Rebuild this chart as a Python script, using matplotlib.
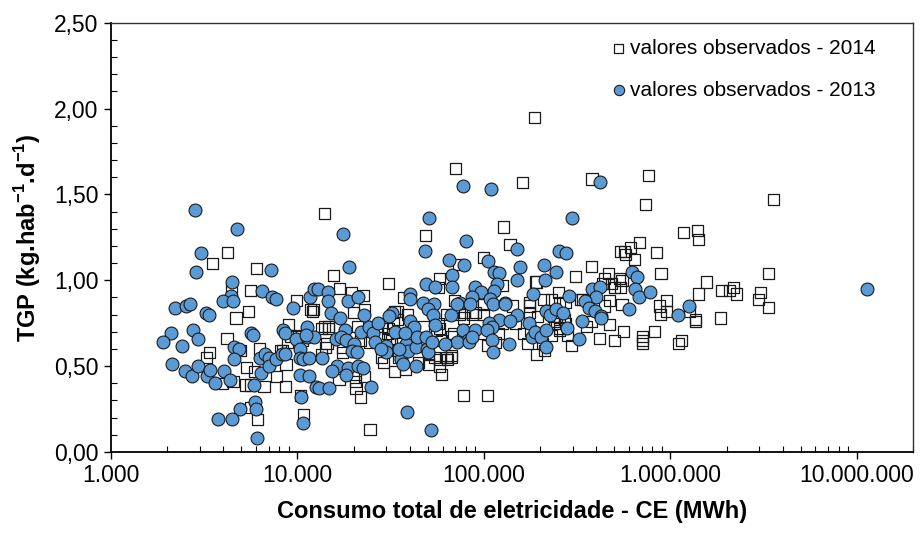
import matplotlib
matplotlib.use("Agg")
import matplotlib.pyplot as plt
from matplotlib.ticker import FixedLocator, LogLocator, MultipleLocator, FuncFormatter, NullFormatter

plt.rcParams['font.family'] = ['Liberation Sans', 'DejaVu Sans']
plt.rcParams['mathtext.fontset'] = 'custom'
plt.rcParams['mathtext.rm'] = 'Liberation Sans'
plt.rcParams['mathtext.bf'] = 'Liberation Sans:bold'

# consumo total de eletricidade (MWh) e TGP (kg/hab/dia) por municipio - 2013
ce_2013 = [
    2820, 4720, 3030, 2840, 7210, 4470, 6430, 4400, 7300, 7660, 3970, 4490, 2200, 2510,
    2660, 3220, 3350, 9460, 11670, 2100, 1910, 2770, 2930, 2390, 2120, 2490, 2710, 2930,
    3270, 3410, 3630, 4050, 4370, 4580, 4870, 4580, 5650, 5800, 6320, 6700, 7000, 6370,
    7040, 7720, 8230, 8360, 8530, 9830, 10340, 10340, 10700, 10300, 11300, 11300, 5880,
    5910, 5990, 4920, 3760, 4430, 6060, 10420, 10650, 8600,
    77100, 50500, 17450, 80500, 48500, 18970, 64900, 78500, 67400, 48800, 54600, 67400,
    12300, 12900, 14600, 14500, 18750, 21100, 40300, 40300, 47300, 53900, 50200, 53000,
    66500, 74400, 71400, 15200, 16900, 22800, 32200, 30900, 18000, 40100, 42300, 54600,
    77400, 82400, 72000, 62100, 12300, 11100, 11540, 13500, 16000, 17200, 18300, 20200,
    19700, 20900, 22000, 24300, 25400, 27100, 26000, 16200, 15400, 18700, 18300, 21100,
    22500, 11500, 12500, 13100, 14800, 24900, 38700, 51900, 29800, 29800, 36000, 36800,
    38100, 39000, 35000, 43000, 49300, 50200, 43800, 49000, 52400, 43000, 33500, 37600,
    27900,
    109000, 420000, 297000, 150000, 253000, 277000, 105000, 157000, 211000, 245000,
    113000, 120000, 150000, 212000, 117000, 89500, 97000, 86000, 113000, 108000, 112000,
    84000, 130000, 129000, 183000, 286000, 380000, 420000, 398000, 347000, 366000,
    392000, 426000, 150000, 214000, 225000, 245000, 266000, 598000, 121000, 138000,
    106000, 111000, 174000, 90000, 104000, 83000, 86200, 110000, 112000, 136000, 182000,
    189000, 203000, 214000, 214000, 278000, 323000, 336000, 426000,
    11350000, 624000, 662000, 648000, 680000, 776000, 1255000, 1100000,
]
tgp_2013 = [
    1.41, 1.30, 1.16, 1.05, 1.06, 0.99, 0.94, 0.91, 0.90, 0.89, 0.88, 0.88, 0.84, 0.85,
    0.86, 0.81, 0.80, 0.84, 0.90, 0.69, 0.64, 0.71, 0.66, 0.62, 0.51, 0.47, 0.44, 0.50,
    0.44, 0.48, 0.40, 0.47, 0.42, 0.61, 0.60, 0.54, 0.69, 0.68, 0.55, 0.57, 0.55, 0.46,
    0.50, 0.54, 0.57, 0.71, 0.69, 0.66, 0.60, 0.55, 0.54, 0.45, 0.73, 0.67, 0.39,
    0.29, 0.25, 0.25, 0.19, 0.19, 0.08, 0.32, 0.17, 0.57,
    1.55, 1.36, 1.27, 1.23, 1.17, 1.08, 1.12, 1.09, 1.03, 0.98, 0.96, 0.96,
    0.95, 0.95, 0.93, 0.88, 0.88, 0.90, 0.92, 0.89, 0.87, 0.86, 0.83, 0.80,
    0.80, 0.87, 0.86, 0.81, 0.78, 0.80, 0.81, 0.79, 0.71, 0.76, 0.73, 0.74,
    0.71, 0.65, 0.64, 0.63, 0.67, 0.68, 0.55, 0.55, 0.66, 0.67, 0.65, 0.63,
    0.59, 0.58, 0.70, 0.73, 0.69, 0.75, 0.64, 0.50, 0.47, 0.49, 0.45, 0.50,
    0.49, 0.44, 0.38, 0.37, 0.37, 0.38, 0.23, 0.13, 0.62, 0.58, 0.54, 0.51,
    0.63, 0.59, 0.60, 0.61, 0.60, 0.58, 0.67, 0.67, 0.64, 0.50, 0.70, 0.69,
    0.60,
    1.53, 1.57, 1.36, 1.18, 1.17, 1.16, 1.11, 1.08, 1.09, 1.05,
    1.05, 1.04, 1.00, 1.00, 0.98, 0.96, 0.93, 0.90, 0.94, 0.89, 0.86,
    0.86, 0.87, 0.86, 0.92, 0.91, 0.95, 0.96, 0.90, 0.88, 0.84,
    0.82, 0.79, 0.80, 0.82, 0.80, 0.83, 0.81, 0.83, 0.77, 0.76,
    0.75, 0.73, 0.75, 0.71, 0.71, 0.64, 0.67, 0.65, 0.58, 0.63, 0.67,
    0.70, 0.67, 0.71, 0.61, 0.72, 0.66, 0.76, 0.78,
    0.95, 1.05, 1.02, 0.95, 0.90, 0.93, 0.85, 0.80,
]

# mesmos dados - 2014
ce_2014 = [
    4210, 3520, 6040, 4430, 5610, 5450, 4680, 9880, 11700, 4190, 3390, 3260, 6240, 4970,
    5340, 5880, 7730, 8600, 5280, 5630, 6620, 3970, 4510, 5630, 6110, 8950, 8840, 8680,
    10400, 10740, 9220, 9800, 8150, 10100, 10700, 8360,
    24500, 15560, 30700, 12140, 70400, 13900, 48500, 16900, 19500, 22500, 19900, 22800,
    33000, 37100, 39000, 56900, 69900, 72700, 78500, 12100, 13900, 14600, 14200, 13500,
    17400, 17400, 20500, 20500, 20600, 23000, 21800, 16700, 14400, 28200, 28800, 33200,
    38100, 30700, 32000, 50200, 58000, 58000, 59200, 67000, 77400, 47300, 58000, 68500,
    77400, 63000, 13500, 14600, 21100, 21700, 24500, 28200, 30400, 31000, 34500, 34500,
    32600, 35000, 33900, 34500, 44400, 50200, 54600, 63000, 64100, 59000, 67000, 67000,
    55700, 57100, 57900, 74000, 87000, 99000,
    161000, 380000, 128000, 138000, 99000, 539000, 575000, 376000, 311000, 189000,
    192000, 468000, 442000, 534000, 543000, 484000, 433000, 500000, 126000, 250000,
    230000, 255000, 338000, 176000, 176000, 142000, 550000, 442000, 470000, 275000,
    99000, 90000, 176000, 194000, 235000, 105000, 164000, 171000, 191000, 212000,
    207000, 230000, 255000, 244000, 275000, 295000, 415000, 500000, 560000, 472000,
    355000, 376000, 120000, 97000, 148000, 116000, 187000, 209000, 330000, 126000,
    105000, 178000, 253000, 282000, 238000, 255000, 270000,
    764000, 733000, 3590000, 1172000, 1393000, 1410000, 680000, 610000, 570000, 645000,
    845000, 890000, 3350000, 1560000, 1410000, 1870000, 2080000, 2170000, 2250000,
    3030000, 2960000, 3350000, 953000, 873000, 953000, 883000, 1270000, 1360000,
    1850000, 550000, 1370000, 707000, 707000, 707000, 820000, 1110000, 1150000,
]
tgp_2014 = [
    1.16, 1.10, 1.07, 0.95, 0.94, 0.82, 0.78, 0.88, 0.83, 0.66, 0.58, 0.55, 0.60, 0.59,
    0.49, 0.47, 0.44, 0.38, 0.39, 0.39, 0.38, 0.40, 0.41, 0.26, 0.19, 0.74, 0.64, 0.51,
    0.33, 0.22, 0.67, 0.68, 0.59, 0.67, 0.65, 0.59,
    0.13, 1.03, 0.98, 0.83, 1.65, 1.39, 1.26, 0.95, 0.93, 0.91, 0.81, 0.83,
    0.82, 0.90, 0.80, 0.96, 0.88, 1.09, 0.81, 0.82, 0.73, 0.73, 0.61, 0.57,
    0.58, 0.61, 0.45, 0.41, 0.37, 0.44, 0.32, 0.42, 0.63, 0.55, 0.52, 0.47,
    0.48, 0.72, 0.65, 0.51, 0.54, 0.50, 0.45, 0.55, 0.33, 0.73, 0.72, 0.69,
    0.78, 0.80, 0.72, 0.72, 0.73, 0.65, 0.64, 0.73, 0.69, 0.66, 0.82, 0.77,
    0.75, 0.55, 0.63, 0.59, 0.52, 0.57, 0.55, 0.55, 0.54, 0.65, 0.67, 0.56,
    0.71, 0.75, 1.01, 0.80, 0.80, 0.80,
    1.57, 1.59, 1.31, 1.21, 1.13, 1.17, 1.15, 1.08, 1.02, 0.99,
    0.99, 1.04, 1.01, 1.01, 0.96, 0.98, 0.98, 0.96, 0.97, 0.93,
    0.89, 0.87, 0.89, 0.87, 0.85, 0.85, 0.86, 0.85, 0.88, 0.87,
    0.86, 0.81, 0.81, 0.79, 0.79, 0.33, 0.69, 0.63, 0.57, 0.59,
    0.63, 0.68, 0.71, 0.75, 0.75, 0.62, 0.66, 0.65, 0.70, 0.74,
    0.73, 0.76, 0.69, 0.69, 0.75, 0.64, 1.95, 0.89, 0.89, 0.75,
    0.62, 0.71, 0.72, 0.68, 0.76, 0.79, 0.77,
    1.61, 1.44, 1.47, 1.28, 1.29, 1.24, 1.22, 1.19, 1.17, 1.12,
    1.16, 1.04, 1.04, 0.99, 0.92, 0.94, 0.94, 0.96, 0.92,
    0.93, 0.89, 0.84, 0.88, 0.85, 0.82, 0.80, 0.82, 0.77,
    0.78, 1.00, 0.76, 0.67, 0.65, 0.63, 0.70, 0.63, 0.65,
]

fig = plt.figure(figsize=(9.21, 5.38), dpi=100)
ax = fig.add_axes([0.1205, 0.1599, 0.8708, 0.7979])

ax.scatter(ce_2014, tgp_2014, marker='s', s=64, facecolors='none', edgecolors='#1a1a1a',
           linewidths=0.9, label='valores observados - 2014', zorder=2)
ax.scatter(ce_2013, tgp_2013, marker='o', s=86, facecolors='#5B9BD5', edgecolors='#1a1a1a',
           linewidths=0.8, label='valores observados - 2013', zorder=3)

ax.set_xscale('log')
ax.set_xlim(1000, 2e7)
ax.set_ylim(0, 2.5)

ax.xaxis.set_major_locator(FixedLocator([1e3, 1e4, 1e5, 1e6, 1e7]))
ax.xaxis.set_minor_locator(LogLocator(base=10, subs=range(2, 10)))
ax.xaxis.set_minor_formatter(NullFormatter())
ax.xaxis.set_major_formatter(FuncFormatter(lambda v, p: f"{int(round(v)):,}".replace(',', '.')))

ax.yaxis.set_major_locator(MultipleLocator(0.5))
ax.yaxis.set_minor_locator(MultipleLocator(0.1))
ax.yaxis.set_major_formatter(FuncFormatter(lambda v, p: f"{v:.2f}".replace('.', ',')))

ax.tick_params(which='major', direction='out', length=5, width=1, labelsize=16.5, pad=4)
ax.tick_params(which='minor', direction='in', length=4, width=0.8)
ax.tick_params(top=False, right=False, which='both')

for side in ['left', 'bottom']:
    ax.spines[side].set_linewidth(1.3)
for side in ['top', 'right']:
    ax.spines[side].set_linewidth(1.0)
    ax.spines[side].set_color('#333333')

ax.set_xlabel('Consumo total de eletricidade - CE (MWh)', fontsize=17, fontweight='bold', labelpad=9)
ax.set_ylabel(r'TGP (kg.hab$^{\mathbf{-1}}$.d$^{\mathbf{-1}}$)', fontsize=17, fontweight='bold', labelpad=8)

leg = ax.legend(loc='upper left', bbox_to_anchor=(0.62, 0.963), frameon=False, fontsize=15,
                handletextpad=0.05, labelspacing=1.12, borderpad=0, borderaxespad=0,
                handlelength=1.0, markerscale=0.8)

fig.savefig('out.png', dpi=100)
